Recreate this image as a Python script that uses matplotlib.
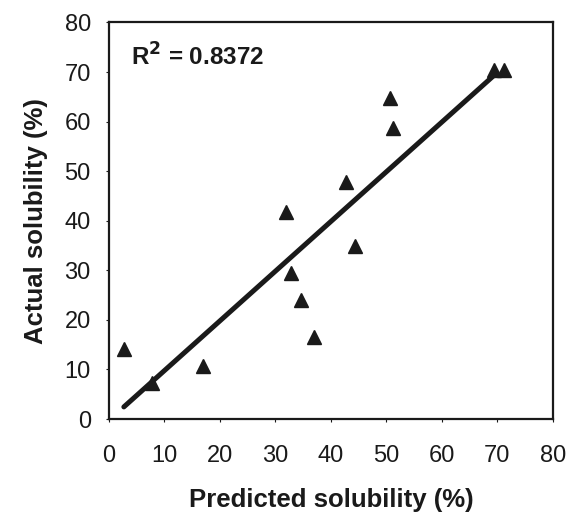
import numpy as np
import matplotlib
matplotlib.use("Agg")
import matplotlib.pyplot as plt

plt.rcParams['font.family'] = ['Liberation Sans', 'DejaVu Sans']

predicted = [2.7, 7.8, 16.9, 32.0, 32.8, 34.6, 36.9, 42.7, 44.4, 50.6, 51.2, 69.3, 71.1]
actual = [14.1, 7.2, 10.7, 41.8, 29.5, 24.1, 16.6, 47.8, 34.9, 64.7, 58.8, 70.4, 70.4]
r2_label = "R$^{\\mathbf{2}}$ = 0.8372"
xticks = [0, 10, 20, 30, 40, 50, 60, 70, 80]
yticks = [0, 10, 20, 30, 40, 50, 60, 70, 80]

x = np.array(predicted)
y = np.array(actual)
slope, intercept = np.polyfit(x, y, 1)
xf = np.array([x.min(), x[:-1].max()])

fig = plt.figure(figsize=(5.7, 5.12), dpi=100)
ax = fig.add_axes([0.191, 0.1816, 0.779, 0.7745])

ink = '#1a1a1a'
ax.plot(xf, slope * xf + intercept, color=ink, lw=3.6, solid_capstyle='round', zorder=2)
ax.plot(x, y, linestyle='none', marker='^', markersize=10.5, color=ink, zorder=3)

ax.set_xlim(0, 80)
ax.set_ylim(0, 80)
ax.set_xticks(xticks)
ax.set_yticks(yticks)
ax.tick_params(axis='both', length=2, width=0.8, colors=ink, labelsize=17)
ax.tick_params(axis='x', pad=17)
ax.tick_params(axis='y', pad=11)
for s in ax.spines.values():
    s.set_linewidth(1.6)
    s.set_color(ink)

ax.set_xlabel("Predicted solubility (%)", fontsize=18.5, fontweight='bold', color=ink, labelpad=14.5)
ax.set_ylabel("Actual solubility (%)", fontsize=18.5, fontweight='bold', color=ink, labelpad=12)

ax.text(0.05, 0.89, r2_label, transform=ax.transAxes, fontsize=17.5,
        fontweight='bold', color=ink, ha='left', va='baseline')

fig.savefig("out.png", dpi=100)
